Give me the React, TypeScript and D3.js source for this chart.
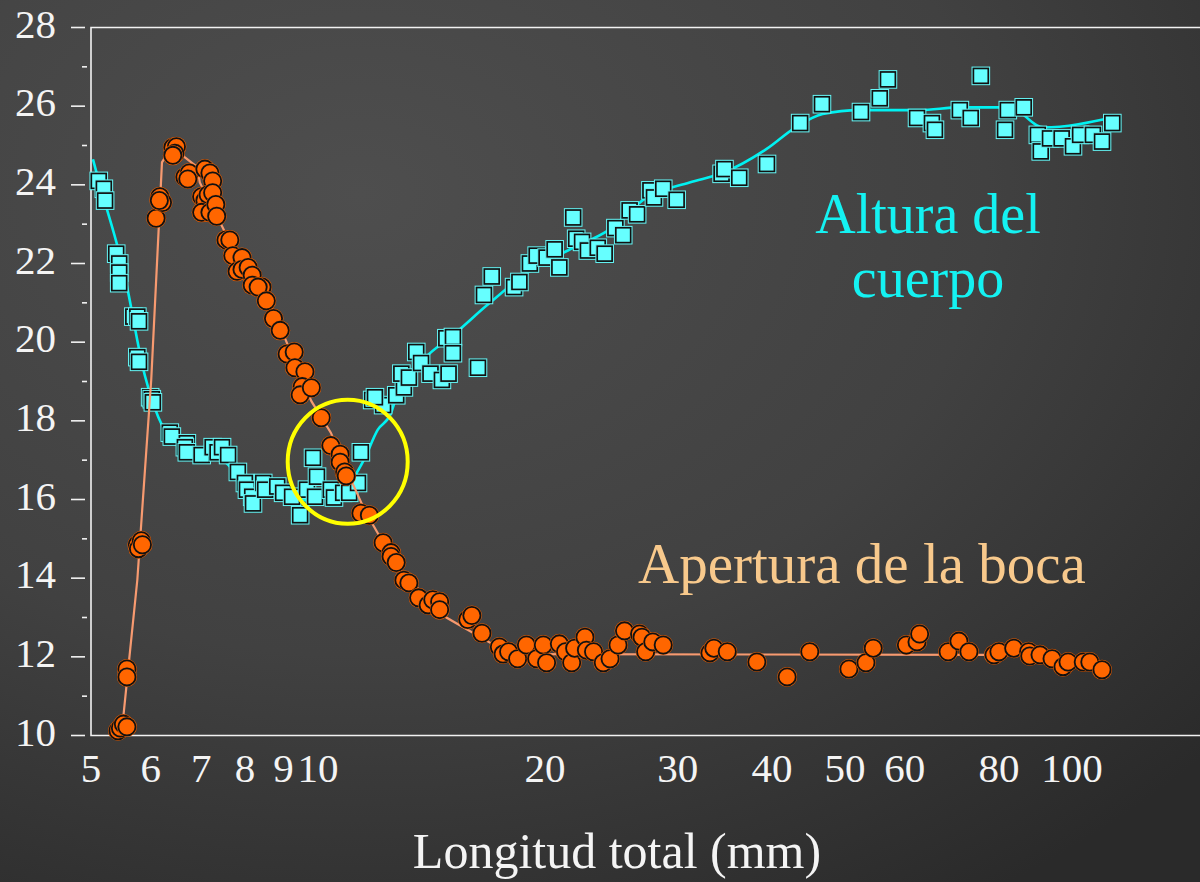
import React, { useEffect, useRef } from "react";
import * as d3 from "d3";

const WIDTH = 1200;
const HEIGHT = 882;

// Apertura de la boca: [longitud total (mm), valor]
const aperturaPoints: [number, number][] = [
  [5.43, 10.12], [5.47, 10.19], [5.52, 10.29], [5.58, 10.22],
  [5.58, 11.69], [5.58, 11.49],
  [5.76, 14.85], [5.78, 14.75], [5.83, 14.95], [5.85, 14.85],
  [6.1, 23.15], [6.17, 23.7], [6.22, 23.55], [6.16, 23.6],
  [6.42, 24.95], [6.49, 24.97], [6.46, 24.8], [6.42, 24.75],
  [6.66, 24.2], [6.75, 24.3], [6.72, 24.15],
  [7.08, 24.4], [7.19, 24.3], [7.25, 24.1], [7.01, 23.7], [7.08, 23.6],
  [7.15, 23.75], [7.25, 23.8], [7.01, 23.3], [7.19, 23.3], [7.32, 23.5], [7.34, 23.2],
  [7.55, 22.6], [7.64, 22.6], [7.71, 22.2], [7.93, 22.15], [7.81, 21.8],
  [7.93, 21.85], [8.08, 21.9], [8.18, 21.7], [8.18, 21.45], [8.43, 21.4],
  [8.33, 21.4], [8.54, 21.05], [8.73, 20.6], [8.91, 20.3],
  [9.1, 19.7], [9.3, 19.75], [9.32, 19.35], [9.61, 19.25],
  [9.53, 18.87], [9.47, 18.66], [9.8, 18.84],
  [10.1, 18.08], [10.4, 17.37], [10.7, 17.15], [10.7, 16.95], [10.85, 16.7], [10.9, 16.6],
  [11.4, 15.65], [11.7, 15.6],
  [12.2, 14.9], [12.5, 14.65], [12.5, 14.55], [12.7, 14.4],
  [13.0, 13.95], [13.2, 13.88], [13.6, 13.5], [14.0, 13.32], [14.2, 13.45],
  [14.5, 13.4], [14.5, 13.2], [15.8, 12.95], [16.0, 13.05], [16.5, 12.6],
  [17.4, 12.25], [17.6, 12.07], [17.9, 12.13], [18.4, 11.95], [18.9, 12.3],
  [19.5, 11.95], [19.9, 12.3], [20.1, 11.85], [20.9, 12.33], [21.3, 12.13],
  [21.7, 11.85], [21.9, 12.22], [22.6, 12.5], [22.7, 12.17], [23.2, 12.13],
  [23.9, 11.85], [24.4, 11.95], [25.0, 12.3], [25.5, 12.66], [26.7, 12.58],
  [26.9, 12.5], [27.2, 12.13], [27.8, 12.38], [28.7, 12.3],
  [33.1, 12.1], [33.5, 12.22], [34.9, 12.13], [38.2, 11.87], [41.9, 11.49],
  [44.9, 12.13], [50.6, 11.69], [53.3, 11.85], [54.5, 12.22],
  [60.3, 12.3], [62.3, 12.38], [62.8, 12.58],
  [68.5, 12.13], [70.8, 12.4], [73.0, 12.13],
  [78.8, 12.05], [80.0, 12.13], [83.7, 12.22], [87.6, 12.13], [87.9, 12.02],
  [90.7, 12.05], [94.1, 11.95], [97.3, 11.75], [98.8, 11.87], [103.5, 11.87],
  [105.6, 11.87], [109.6, 11.67]
];

const aperturaTrend: [number, number][] = [
  [5.5, 10.2], [5.6, 11.67], [5.76, 13.96], [6.01, 19.05], [6.21, 24.57],
  [6.27, 24.7], [6.46, 24.9], [6.66, 24.7], [6.92, 24.45], [6.97, 24.06],
  [7.46, 22.95], [7.64, 22.55], [8.91, 20.5], [9.04, 20.1], [9.8, 18.5],
  [10.4, 17.7], [11.0, 16.6], [11.55, 15.7], [12.0, 15.15], [12.7, 14.3],
  [14.8, 13.0], [16.95, 12.35], [17.8, 12.07], [78.5, 12.05], [80.5, 12.15],
  [95, 12.0], [108, 11.72]
];

// Altura del cuerpo: [longitud total (mm), valor]
const alturaPoints: [number, number][] = [
  [5.12, 24.1], [5.2, 23.9], [5.22, 23.6],
  [5.4, 22.25], [5.45, 22.0], [5.45, 21.77], [5.45, 21.5],
  [5.69, 20.65], [5.76, 20.65], [5.79, 20.53], [5.76, 19.62], [5.79, 19.5],
  [5.99, 18.6], [6.02, 18.55], [6.04, 18.47],
  [6.36, 17.7], [6.4, 17.6], [6.7, 17.43], [6.66, 17.33], [6.7, 17.2],
  [7.01, 17.13], [7.25, 17.33], [7.36, 17.2], [7.46, 17.33], [7.6, 17.13],
  [7.83, 16.7], [8.0, 16.42], [8.05, 16.25], [8.18, 16.07], [8.2, 15.9],
  [8.46, 16.42], [8.51, 16.25], [8.83, 16.33], [8.99, 16.17], [9.24, 16.07],
  [9.47, 15.6], [9.67, 16.25], [9.85, 17.06], [9.97, 16.58], [9.91, 16.07],
  [10.4, 16.25], [10.5, 16.05], [10.8, 16.17], [11.0, 16.17],
  [11.4, 17.2], [11.3, 16.42], [11.8, 18.53], [12.2, 18.4], [11.9, 18.6],
  [12.7, 18.65], [13.0, 18.85], [12.9, 19.2], [13.2, 19.1], [13.5, 19.75],
  [13.7, 19.47], [14.1, 19.2], [14.6, 19.04], [14.9, 19.2], [16.3, 19.35],
  [14.8, 20.1], [15.1, 20.13], [15.1, 19.72],
  [16.6, 21.2], [17.0, 21.67], [18.2, 21.4], [18.5, 21.53], [19.1, 22.0],
  [19.5, 22.2], [20.1, 22.15], [20.6, 22.36], [20.9, 21.9],
  [21.8, 23.17], [22.0, 22.63], [22.4, 22.55], [22.8, 22.33], [23.5, 22.4],
  [24.0, 22.25], [24.8, 22.9], [25.4, 22.72], [25.9, 23.35], [26.5, 23.25],
  [27.6, 23.86], [27.9, 23.68], [28.7, 23.9], [29.9, 23.62],
  [34.3, 24.28], [34.6, 24.4], [36.2, 24.18], [39.4, 24.53],
  [43.6, 25.57], [46.6, 26.05], [52.5, 25.85], [55.6, 26.2], [57.0, 26.68],
  [62.3, 25.7], [65.2, 25.57], [65.8, 25.4], [71.0, 25.9], [73.4, 25.7],
  [75.7, 26.77], [81.5, 25.4], [82.2, 25.9], [86.3, 25.97],
  [90.1, 25.27], [90.9, 24.85], [93.5, 25.18], [96.9, 25.18], [100.3, 24.98],
  [102.5, 25.27], [106.6, 25.27], [109.6, 25.1], [113.1, 25.57]
];

const alturaTrend: [number, number][] = [
  [5.03, 24.65], [5.12, 24.1], [5.52, 21.85], [5.9, 19.12], [6.14, 18.1],
  [6.42, 17.5], [6.77, 17.3], [7.25, 17.13], [7.48, 17.0], [7.88, 16.57],
  [8.46, 16.17], [9.18, 15.98], [9.76, 15.98], [10.4, 16.1], [10.9, 16.3],
  [11.5, 17.0], [12.0, 17.77], [12.5, 18.2], [12.7, 18.6], [13.9, 19.62],
  [15.0, 20.13], [16.9, 21.0], [18.9, 21.75], [21.8, 22.4], [24.2, 22.83],
  [27.3, 23.68], [31.1, 24.06], [34.4, 24.3], [39.4, 24.92], [42.9, 25.45],
  [46.7, 25.8], [52.3, 25.9], [62.8, 25.9], [71.0, 25.97], [82.7, 25.97],
  [91.6, 25.46], [113.5, 25.72]
];

const xTickValues = [5, 6, 7, 8, 9, 10, 20, 30, 40, 50, 60, 80, 100];
const yTickValues = [10, 12, 14, 16, 18, 20, 22, 24, 26, 28];
const yMinorTicks = [11, 13, 15, 17, 19, 21, 23, 25, 27];

const FONT = "Liberation Serif, Times New Roman, serif";

const renderChart = (svgEl: SVGSVGElement) => {
  const svg = d3.select(svgEl);
  svg.selectAll("*").remove();

  const x = d3.scaleLog().domain([5, 100]).range([91, 1072]);
  const y = d3.scaleLinear().domain([10, 28]).range([735.5, 27.5]);

  // background
  const defs = svg.append("defs");
  const grad = defs.append("radialGradient")
    .attr("id", "bg")
    .attr("cx", "30%").attr("cy", "22%").attr("r", "95%");
  grad.append("stop").attr("offset", "0%").attr("stop-color", "#4e4e4e");
  grad.append("stop").attr("offset", "55%").attr("stop-color", "#414141");
  grad.append("stop").attr("offset", "100%").attr("stop-color", "#2a2a2a");
  svg.append("rect").attr("width", WIDTH).attr("height", HEIGHT).attr("fill", "url(#bg)");

  // frame
  const frame = svg.append("g").attr("stroke", "#f2f2f2").attr("stroke-width", 1.6).attr("fill", "none");
  frame.append("path").attr("d", `M${WIDTH},${y(28)}H${x(5)}V${y(10)}H${WIDTH}`);

  // y ticks
  const yAxis = svg.append("g").attr("stroke", "#f2f2f2").attr("stroke-width", 1.6);
  yAxis.selectAll(".major").data(yTickValues).enter().append("line")
    .attr("x1", 71).attr("x2", 85)
    .attr("y1", d => y(d)).attr("y2", d => y(d));
  yAxis.selectAll(".minor").data(yMinorTicks).enter().append("line")
    .attr("x1", 82).attr("x2", 87)
    .attr("y1", d => y(d)).attr("y2", d => y(d));

  svg.append("g").selectAll("text").data(yTickValues).enter().append("text")
    .attr("x", 56).attr("y", d => y(d) + 10)
    .attr("text-anchor", "end")
    .style("font-family", FONT).attr("font-size", 41).attr("fill", "#f4f4f4")
    .text(d => d);

  svg.append("g").selectAll("text").data(xTickValues).enter().append("text")
    .attr("x", d => x(d)).attr("y", 782)
    .attr("text-anchor", "middle")
    .style("font-family", FONT).attr("font-size", 41).attr("fill", "#f4f4f4")
    .text(d => d);

  svg.append("text")
    .attr("x", 617).attr("y", 868)
    .attr("text-anchor", "middle")
    .style("font-family", FONT).attr("font-size", 50).attr("fill", "#f4f4f4")
    .text("Longitud total (mm)");

  const line = (curve: d3.CurveFactory) => d3.line<[number, number]>()
    .x(d => x(d[0])).y(d => y(d[1])).curve(curve);

  // Altura del cuerpo
  svg.append("path").datum(alturaTrend)
    .attr("d", line(d3.curveMonotoneX))
    .attr("fill", "none").attr("stroke", "#00f2f2").attr("stroke-width", 2.6);

  const sq = svg.append("g").selectAll("g").data(alturaPoints).enter().append("g")
    .attr("transform", d => `translate(${x(d[0])},${y(d[1])})`);
  sq.append("rect")
    .attr("x", -8.8).attr("y", -8.8).attr("width", 17.6).attr("height", 17.6)
    .attr("fill", "#111").attr("stroke", "#66f8f8").attr("stroke-width", 1);
  sq.append("rect")
    .attr("x", -6.6).attr("y", -6.6).attr("width", 13.2).attr("height", 13.2)
    .attr("fill", "#66ffff");

  // Apertura de la boca
  svg.append("path").datum(aperturaTrend)
    .attr("d", line(d3.curveLinear))
    .attr("fill", "none").attr("stroke", "#f79a70").attr("stroke-width", 2.2);

  const dots = svg.append("g").selectAll("g").data(aperturaPoints).enter().append("g")
    .attr("transform", d => `translate(${x(d[0])},${y(d[1])})`);
  dots.append("circle").attr("r", 10).attr("fill", "#e85d00");
  dots.append("circle").attr("r", 8.6)
    .attr("fill", "#ff6600").attr("stroke", "#111").attr("stroke-width", 1.8);

  // yellow highlight
  svg.append("ellipse")
    .attr("cx", x(10.95)).attr("cy", y(16.96))
    .attr("rx", 60).attr("ry", 62)
    .attr("fill", "none").attr("stroke", "#ffff00").attr("stroke-width", 4);

  // series labels
  const alt = svg.append("text")
    .attr("text-anchor", "middle")
    .style("font-family", FONT).attr("font-size", 56).attr("fill", "#14f2f2");
  alt.append("tspan").attr("x", 928).attr("y", 233).text("Altura del");
  alt.append("tspan").attr("x", 928).attr("y", 297).text("cuerpo");

  svg.append("text")
    .attr("x", 862).attr("y", 583)
    .attr("text-anchor", "middle")
    .style("font-family", FONT).attr("font-size", 57).attr("fill", "#f8c98c")
    .text("Apertura de la boca");
};

const App = () => {
  const svgRef = useRef<SVGSVGElement>(null);

  useEffect(() => {
    document.body.style.margin = "0";
    if (svgRef.current) renderChart(svgRef.current);
  }, []);

  return (
    <svg ref={svgRef} width={WIDTH} height={HEIGHT} style={{ display: "block" }} />
  );
};

export default App;
